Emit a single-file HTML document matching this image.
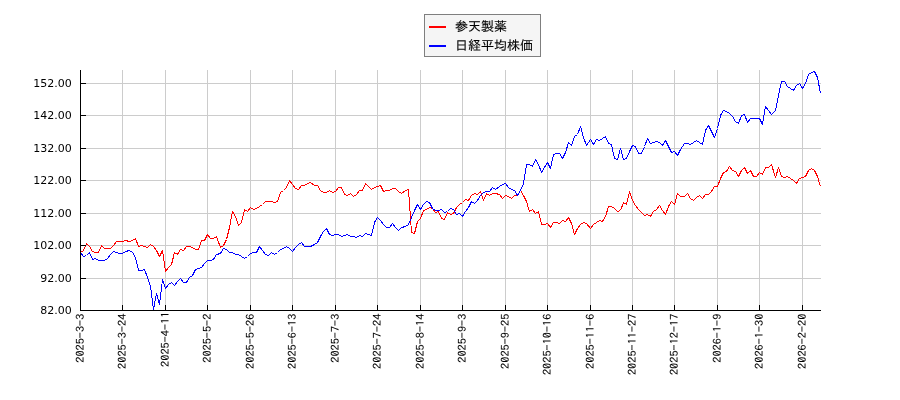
<!DOCTYPE html>
<html lang="ja"><head><meta charset="utf-8"><title>参天製薬 日経平均株価</title>
<style>
html,body{margin:0;padding:0;background:#fff;}
body{width:900px;height:400px;overflow:hidden;}
svg{display:block;will-change:transform;}
.yl{font-family:"DejaVu Sans","Liberation Sans",sans-serif;font-size:11px;fill:#000;text-anchor:end;}
.xl{font-family:"IPAGothic","Liberation Mono","Noto Sans CJK JP",monospace;font-size:12.3px;fill:#000;text-anchor:end;stroke:#000;stroke-width:0.1px;}
.lg{font-family:"Liberation Sans","IPAGothic","Noto Sans CJK JP",sans-serif;font-size:13px;fill:#000;stroke:#000;stroke-width:0.12px;}
</style></head><body>
<svg width="900" height="400" viewBox="0 0 900 400">
<rect x="0" y="0" width="900" height="400" fill="#ffffff"/>
<g fill="#cccccc"><rect x="122" y="70" width="1" height="240"/><rect x="165" y="70" width="1" height="240"/><rect x="207" y="70" width="1" height="240"/><rect x="250" y="70" width="1" height="240"/><rect x="292" y="70" width="1" height="240"/><rect x="335" y="70" width="1" height="240"/><rect x="377" y="70" width="1" height="240"/><rect x="420" y="70" width="1" height="240"/><rect x="462" y="70" width="1" height="240"/><rect x="505" y="70" width="1" height="240"/><rect x="547" y="70" width="1" height="240"/><rect x="590" y="70" width="1" height="240"/><rect x="632" y="70" width="1" height="240"/><rect x="674" y="70" width="1" height="240"/><rect x="717" y="70" width="1" height="240"/><rect x="759" y="70" width="1" height="240"/><rect x="802" y="70" width="1" height="240"/><rect x="81" y="83" width="740" height="1"/><rect x="81" y="115" width="740" height="1"/><rect x="81" y="148" width="740" height="1"/><rect x="81" y="180" width="740" height="1"/><rect x="81" y="213" width="740" height="1"/><rect x="81" y="245" width="740" height="1"/><rect x="81" y="278" width="740" height="1"/></g>
<polyline points="80.5,252.5 83.5,250.5 86.5,243.5 89.5,246.5 92.5,251.5 95.5,252.5 98.5,252.5 101.5,245.5 104.5,248.5 107.5,248.5 110.5,248.5 113.5,245.5 116.5,241.5 119.5,241.5 122.5,241.5 125.5,240.5 129.5,241.5 132.5,240.5 135.5,238.5 138.5,246.5 141.5,245.5 144.5,246.5 147.5,247.5 150.5,244.5 153.5,246.5 156.5,250.5 159.5,256.5 162.5,250.5 165.5,271.5 168.5,267.5 171.5,264.5 174.5,252.5 177.5,254.5 180.5,249.5 183.5,250.5 186.5,246.5 189.5,246.5 192.5,247.5 195.5,249.5 198.5,249.5 201.5,240.5 204.5,240.5 207.5,234.5 210.5,238.5 213.5,238.5 216.5,236.5 220.5,247.5 223.5,245.5 226.5,239.5 229.5,227.5 232.5,211.5 235.5,216.5 238.5,225.5 241.5,222.5 244.5,209.5 247.5,211.5 250.5,207.5 253.5,209.5 256.5,208.5 259.5,206.5 262.5,204.5 265.5,201.5 268.5,201.5 271.5,201.5 274.5,202.5 277.5,201.5 280.5,192.5 283.5,190.5 286.5,187.5 289.5,180.5 292.5,184.5 295.5,188.5 298.5,189.5 301.5,185.5 304.5,185.5 307.5,183.5 310.5,182.5 314.5,185.5 317.5,185.5 320.5,190.5 323.5,192.5 326.5,192.5 329.5,190.5 332.5,192.5 335.5,191.5 338.5,187.5 341.5,187.5 344.5,194.5 347.5,195.5 350.5,193.5 353.5,196.5 356.5,194.5 359.5,190.5 362.5,190.5 365.5,183.5 368.5,186.5 371.5,189.5 374.5,187.5 377.5,186.5 380.5,185.5 383.5,191.5 386.5,190.5 389.5,190.5 392.5,188.5 395.5,188.5 398.5,191.5 401.5,193.5 405.5,190.5 408.5,189.5 411.5,232.5 414.5,233.5 417.5,221.5 420.5,218.5 423.5,210.5 426.5,209.5 429.5,207.5 432.5,208.5 435.5,212.5 438.5,211.5 441.5,218.5 444.5,219.5 447.5,212.5 450.5,214.5 453.5,213.5 456.5,207.5 459.5,204.5 462.5,202.5 465.5,199.5 468.5,200.5 471.5,195.5 474.5,193.5 477.5,194.5 480.5,191.5 483.5,200.5 486.5,193.5 489.5,195.5 492.5,193.5 495.5,193.5 499.5,194.5 502.5,198.5 505.5,195.5 508.5,196.5 511.5,198.5 514.5,195.5 517.5,195.5 520.5,190.5 523.5,195.5 526.5,201.5 529.5,211.5 532.5,209.5 535.5,213.5 538.5,211.5 541.5,224.5 544.5,224.5 547.5,223.5 550.5,227.5 553.5,222.5 556.5,222.5 559.5,223.5 562.5,220.5 565.5,221.5 568.5,217.5 571.5,223.5 574.5,234.5 577.5,228.5 580.5,224.5 583.5,222.5 586.5,223.5 590.5,228.5 593.5,224.5 596.5,222.5 599.5,220.5 602.5,221.5 605.5,216.5 608.5,206.5 611.5,206.5 614.5,208.5 617.5,211.5 620.5,210.5 623.5,202.5 626.5,204.5 629.5,191.5 632.5,200.5 635.5,205.5 638.5,209.5 641.5,212.5 644.5,215.5 647.5,214.5 650.5,216.5 653.5,211.5 656.5,209.5 659.5,205.5 662.5,210.5 665.5,214.5 668.5,206.5 671.5,201.5 674.5,204.5 677.5,193.5 680.5,196.5 684.5,196.5 687.5,193.5 690.5,198.5 693.5,200.5 696.5,197.5 699.5,195.5 702.5,198.5 705.5,194.5 708.5,194.5 711.5,191.5 714.5,186.5 717.5,186.5 720.5,178.5 723.5,172.5 726.5,171.5 729.5,166.5 732.5,170.5 735.5,171.5 738.5,176.5 741.5,170.5 744.5,167.5 747.5,173.5 750.5,170.5 753.5,176.5 756.5,176.5 759.5,172.5 762.5,174.5 765.5,167.5 768.5,167.5 771.5,164.5 775.5,177.5 778.5,167.5 781.5,176.5 784.5,177.5 787.5,176.5 790.5,178.5 793.5,180.5 796.5,183.5 799.5,178.5 802.5,177.5 805.5,176.5 808.5,170.5 811.5,168.5 814.5,170.5 817.5,176.5 820.5,186.5" fill="none" stroke="#ff0000" stroke-width="1" stroke-linejoin="round" shape-rendering="crispEdges"/>
<polyline points="80.5,252.5 83.5,256.5 86.5,255.5 89.5,252.5 92.5,259.5 95.5,258.5 98.5,260.5 101.5,260.5 104.5,260.5 107.5,258.5 110.5,254.5 113.5,251.5 116.5,252.5 119.5,253.5 122.5,253.5 125.5,251.5 129.5,250.5 132.5,252.5 135.5,257.5 138.5,270.5 141.5,270.5 144.5,269.5 147.5,277.5 150.5,286.5 153.5,309.5 156.5,293.5 159.5,304.5 162.5,279.5 165.5,288.5 168.5,284.5 171.5,282.5 174.5,285.5 177.5,281.5 180.5,278.5 183.5,282.5 186.5,282.5 189.5,277.5 192.5,275.5 195.5,269.5 198.5,268.5 201.5,267.5 204.5,263.5 207.5,260.5 210.5,260.5 213.5,259.5 216.5,254.5 220.5,253.5 223.5,248.5 226.5,249.5 229.5,252.5 232.5,252.5 235.5,254.5 238.5,254.5 241.5,256.5 244.5,258.5 247.5,256.5 250.5,253.5 253.5,252.5 256.5,252.5 259.5,246.5 262.5,250.5 265.5,254.5 268.5,255.5 271.5,252.5 274.5,254.5 277.5,252.5 280.5,249.5 283.5,248.5 286.5,246.5 289.5,248.5 292.5,251.5 295.5,247.5 298.5,244.5 301.5,242.5 304.5,246.5 307.5,246.5 310.5,246.5 314.5,244.5 317.5,242.5 320.5,236.5 323.5,231.5 326.5,228.5 329.5,234.5 332.5,235.5 335.5,234.5 338.5,234.5 341.5,236.5 344.5,235.5 347.5,234.5 350.5,236.5 353.5,236.5 356.5,237.5 359.5,235.5 362.5,236.5 365.5,233.5 368.5,234.5 371.5,235.5 374.5,222.5 377.5,217.5 380.5,220.5 383.5,224.5 386.5,227.5 389.5,227.5 392.5,223.5 395.5,227.5 398.5,230.5 401.5,227.5 405.5,226.5 408.5,224.5 411.5,217.5 414.5,210.5 417.5,204.5 420.5,209.5 423.5,204.5 426.5,201.5 429.5,202.5 432.5,208.5 435.5,210.5 438.5,210.5 441.5,209.5 444.5,212.5 447.5,211.5 450.5,208.5 453.5,209.5 456.5,214.5 459.5,213.5 462.5,216.5 465.5,211.5 468.5,207.5 471.5,201.5 474.5,203.5 477.5,200.5 480.5,195.5 483.5,192.5 486.5,191.5 489.5,191.5 492.5,187.5 495.5,189.5 499.5,186.5 502.5,184.5 505.5,183.5 508.5,187.5 511.5,189.5 514.5,190.5 517.5,195.5 520.5,190.5 523.5,183.5 526.5,164.5 529.5,164.5 532.5,166.5 535.5,159.5 538.5,164.5 541.5,172.5 544.5,167.5 547.5,162.5 550.5,168.5 553.5,154.5 556.5,153.5 559.5,153.5 562.5,158.5 565.5,152.5 568.5,142.5 571.5,145.5 574.5,136.5 577.5,134.5 580.5,126.5 583.5,137.5 586.5,145.5 590.5,139.5 593.5,144.5 596.5,139.5 599.5,140.5 602.5,138.5 605.5,136.5 608.5,143.5 611.5,144.5 614.5,158.5 617.5,159.5 620.5,148.5 623.5,159.5 626.5,158.5 629.5,151.5 632.5,145.5 635.5,146.5 638.5,153.5 641.5,153.5 644.5,146.5 647.5,138.5 650.5,143.5 653.5,142.5 656.5,141.5 659.5,142.5 662.5,145.5 665.5,140.5 668.5,146.5 671.5,152.5 674.5,151.5 677.5,155.5 680.5,149.5 684.5,143.5 687.5,143.5 690.5,144.5 693.5,142.5 696.5,140.5 699.5,142.5 702.5,144.5 705.5,130.5 708.5,125.5 711.5,131.5 714.5,137.5 717.5,128.5 720.5,115.5 723.5,110.5 726.5,111.5 729.5,113.5 732.5,116.5 735.5,121.5 738.5,123.5 741.5,115.5 744.5,114.5 747.5,122.5 750.5,118.5 753.5,118.5 756.5,118.5 759.5,118.5 762.5,124.5 765.5,106.5 768.5,110.5 771.5,114.5 775.5,110.5 778.5,95.5 781.5,81.5 784.5,81.5 787.5,86.5 790.5,88.5 793.5,90.5 796.5,85.5 799.5,83.5 802.5,88.5 805.5,83.5 808.5,74.5 811.5,72.5 814.5,71.5 817.5,77.5 820.5,93.5" fill="none" stroke="#0000ff" stroke-width="1" stroke-linejoin="round" shape-rendering="crispEdges"/>
<g fill="#000000"><rect x="80" y="70" width="1" height="241"/><rect x="80" y="310" width="741" height="1"/><rect x="80" y="305" width="1" height="5"/><rect x="122" y="305" width="1" height="5"/><rect x="165" y="305" width="1" height="5"/><rect x="207" y="305" width="1" height="5"/><rect x="250" y="305" width="1" height="5"/><rect x="292" y="305" width="1" height="5"/><rect x="335" y="305" width="1" height="5"/><rect x="377" y="305" width="1" height="5"/><rect x="420" y="305" width="1" height="5"/><rect x="462" y="305" width="1" height="5"/><rect x="505" y="305" width="1" height="5"/><rect x="547" y="305" width="1" height="5"/><rect x="590" y="305" width="1" height="5"/><rect x="632" y="305" width="1" height="5"/><rect x="674" y="305" width="1" height="5"/><rect x="717" y="305" width="1" height="5"/><rect x="759" y="305" width="1" height="5"/><rect x="802" y="305" width="1" height="5"/><rect x="80" y="83" width="6" height="1"/><rect x="80" y="115" width="6" height="1"/><rect x="80" y="148" width="6" height="1"/><rect x="80" y="180" width="6" height="1"/><rect x="80" y="213" width="6" height="1"/><rect x="80" y="245" width="6" height="1"/><rect x="80" y="278" width="6" height="1"/><rect x="80" y="310" width="6" height="1"/></g>
<text class="yl" x="71.8" y="87.4">152.00</text><text class="yl" x="71.8" y="119.4">142.00</text><text class="yl" x="71.8" y="152.4">132.00</text><text class="yl" x="71.8" y="184.4">122.00</text><text class="yl" x="71.8" y="217.4">112.00</text><text class="yl" x="71.8" y="249.4">102.00</text><text class="yl" x="71.8" y="282.4">92.00</text><text class="yl" x="71.8" y="314.4">82.00</text>
<text class="xl" transform="translate(84.2,313.6) rotate(-90) scale(1,0.87)">2025-3-3</text><text class="xl" transform="translate(126.2,313.6) rotate(-90) scale(1,0.87)">2025-3-24</text><text class="xl" transform="translate(169.2,311.6) rotate(-90) scale(1,0.87)">2025-4-11</text><text class="xl" transform="translate(211.2,313.6) rotate(-90) scale(1,0.87)">2025-5-2</text><text class="xl" transform="translate(254.2,313.6) rotate(-90) scale(1,0.87)">2025-5-26</text><text class="xl" transform="translate(296.2,313.6) rotate(-90) scale(1,0.87)">2025-6-13</text><text class="xl" transform="translate(339.2,313.6) rotate(-90) scale(1,0.87)">2025-7-3</text><text class="xl" transform="translate(381.2,313.6) rotate(-90) scale(1,0.87)">2025-7-24</text><text class="xl" transform="translate(424.2,313.6) rotate(-90) scale(1,0.87)">2025-8-14</text><text class="xl" transform="translate(466.2,313.6) rotate(-90) scale(1,0.87)">2025-9-3</text><text class="xl" transform="translate(509.2,313.6) rotate(-90) scale(1,0.87)">2025-9-25</text><text class="xl" transform="translate(551.2,313.6) rotate(-90) scale(1,0.87)">2025-10-16</text><text class="xl" transform="translate(594.2,313.6) rotate(-90) scale(1,0.87)">2025-11-6</text><text class="xl" transform="translate(636.2,313.6) rotate(-90) scale(1,0.87)">2025-11-27</text><text class="xl" transform="translate(678.2,313.6) rotate(-90) scale(1,0.87)">2025-12-17</text><text class="xl" transform="translate(721.2,313.6) rotate(-90) scale(1,0.87)">2026-1-9</text><text class="xl" transform="translate(763.2,313.6) rotate(-90) scale(1,0.87)">2026-1-30</text><text class="xl" transform="translate(806.2,313.6) rotate(-90) scale(1,0.87)">2026-2-20</text>
<rect x="424.5" y="14.5" width="116" height="42" fill="#f5f5f5" stroke="#7f7f7f" stroke-width="1"/>
<rect x="429" y="26" width="17" height="2" fill="#ff0000"/>
<rect x="429" y="45" width="17" height="2" fill="#0000ff"/>
<text class="lg" x="455" y="30.5">参天製薬</text>
<text class="lg" x="455" y="49.5">日経平均株価</text>
</svg>
</body></html>
